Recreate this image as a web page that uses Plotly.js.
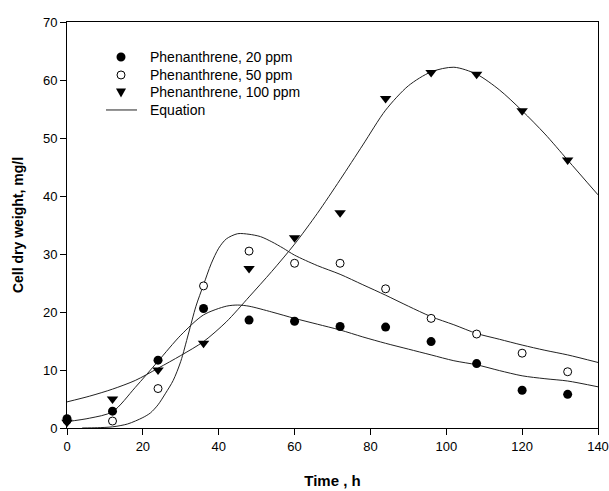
<!DOCTYPE html>
<html>
<head>
<meta charset="utf-8">
<script src="https://cdn.plot.ly/plotly-3.0.1.min.js"></script>
<style>html,body{margin:0;padding:0;background:#fff;}#chart{width:609px;height:491px;}</style>
</head>
<body>
<div id="chart"></div>
<script>
// Measured data
const timeH = [0, 12, 24, 36, 48, 60, 72, 84, 96, 108, 120, 132];
const phen20 = [1.6, 2.9, 11.7, 20.6, 18.6, 18.4, 17.5, 17.4, 14.9, 11.1, 6.5, 5.8];
const phen50 = [1.3, 1.2, 6.8, 24.5, 30.5, 28.4, 28.4, 24.0, 18.9, 16.2, 12.9, 9.7];
const phen100 = [1.0, 5.0, 10.0, 14.6, 27.5, 32.8, 37.1, 56.8, 61.3, 61.0, 54.7, 46.2];

// Fitted equation curves
const eq20T = [0, 6, 12, 18, 24, 30, 36, 42, 45, 48, 54, 60, 66, 72, 78, 84, 90, 96, 102, 108, 114, 120, 126, 132, 140];
const eq20V = [1.1, 1.7, 2.8, 7.0, 11.5, 16.0, 19.5, 21.0, 21.2, 21.0, 20.0, 18.9, 17.9, 16.9, 15.7, 14.6, 13.6, 12.6, 11.6, 10.9, 9.9, 9.0, 8.5, 8.1, 7.1];

const eq50T = [4, 8, 12, 16, 20, 22, 24, 26, 28, 30, 32, 34, 36, 38, 40, 42, 45, 48, 51, 54, 57, 60, 66, 72, 78, 84, 90, 96, 102, 108, 114, 120, 126, 132, 140];
const eq50V = [0, 0.05, 0.2, 0.7, 1.8, 2.6, 4.0, 6.0, 8.2, 11.5, 16.2, 21.0, 24.7, 28.3, 31.0, 32.6, 33.5, 33.4, 33.0, 32.1, 31.0, 29.8, 28.0, 26.5, 24.7, 22.9, 21.0, 19.2, 17.8, 16.3, 15.3, 14.3, 13.4, 12.6, 11.3];

const eq100T = [0, 6, 12, 18, 24, 30, 36, 42, 48, 54, 60, 66, 72, 78, 84, 90, 96, 102, 108, 114, 120, 126, 132, 140];
const eq100V = [4.5, 5.5, 6.7, 8.2, 10.3, 12.5, 14.9, 18.3, 22.6, 27.0, 31.7, 37.0, 42.8, 48.8, 54.8, 59.0, 61.4, 62.2, 61.0, 58.3, 54.7, 50.7, 46.2, 40.2];

const seriesNames = ['Phenanthrene, 20 ppm', 'Phenanthrene, 50 ppm', 'Phenanthrene, 100 ppm', 'Equation'];
const xTicks = [0, 20, 40, 60, 80, 100, 120, 140];
const yTicks = [0, 10, 20, 30, 40, 50, 60, 70];

const FONT = 'Liberation Sans, Arial, sans-serif';
const lineStyle = {color: '#222', width: 1, shape: 'spline', smoothing: 0.8};

const traces = [
  {x: eq20T, y: eq20V, mode: 'lines', line: lineStyle, name: seriesNames[3], hoverinfo: 'skip'},
  {x: eq50T, y: eq50V, mode: 'lines', line: lineStyle, name: seriesNames[3], hoverinfo: 'skip'},
  {x: eq100T, y: eq100V, mode: 'lines', line: lineStyle, name: seriesNames[3], hoverinfo: 'skip'},
  {x: timeH, y: phen50, mode: 'markers', name: seriesNames[1], cliponaxis: false,
   marker: {symbol: 'circle', size: 8, color: '#fff', line: {color: '#000', width: 1}}},
  {x: timeH, y: phen100, mode: 'markers', name: seriesNames[2], cliponaxis: false,
   marker: {symbol: 'triangle-down', size: 10, color: '#000', line: {width: 0}}},
  {x: timeH, y: phen20, mode: 'markers', name: seriesNames[0], cliponaxis: false,
   marker: {symbol: 'circle', size: 9, color: '#000', line: {width: 0}}}
];

// Manual legend (layout decoration)
const legSymX = 0.1017, legTextX = 0.1525;
const legRowsY = [0.9138, 0.8695, 0.8264, 0.7833];
const px = {xref: 'paper', yref: 'paper', xsizemode: 'pixel', ysizemode: 'pixel', xanchor: legSymX};
const shapes = [
  Object.assign({type: 'circle', yanchor: legRowsY[0], x0: -4.5, x1: 4.5, y0: -4.5, y1: 4.5,
                 fillcolor: '#000', line: {width: 0}}, px),
  Object.assign({type: 'circle', yanchor: legRowsY[1], x0: -4, x1: 4, y0: -4, y1: 4,
                 fillcolor: '#fff', line: {color: '#000', width: 1}}, px),
  Object.assign({type: 'path', yanchor: legRowsY[2], path: 'M-5,4 L5,4 L0,-5 Z',
                 fillcolor: '#000', line: {width: 0}}, px),
  Object.assign({type: 'line', yanchor: legRowsY[3], x0: -15, x1: 16, y0: 0, y1: 0,
                 line: {color: '#222', width: 1}}, px)
];
const annotations = seriesNames.map((n, i) => ({
  text: n, xref: 'paper', yref: 'paper', x: legTextX, y: legRowsY[i],
  xanchor: 'left', yanchor: 'middle', showarrow: false,
  font: {family: FONT, size: 14, color: '#000'}
}));

const layout = {
  width: 609, height: 491,
  margin: {l: 67, r: 11, t: 22, b: 63},
  paper_bgcolor: '#fff', plot_bgcolor: '#fff',
  font: {family: FONT, size: 12, color: '#000'},
  showlegend: false,
  shapes: shapes,
  annotations: annotations,
  xaxis: {range: [0, 140], tickvals: xTicks, ticks: 'outside', ticklen: 6, tickcolor: '#000',
          showline: true, linecolor: '#000', linewidth: 1, mirror: true, showgrid: false, zeroline: false,
          tickfont: {family: FONT, size: 13, color: '#000'},
          title: {text: '<b>Time , h</b>', font: {family: FONT, size: 15, color: '#000'}, standoff: 22}},
  yaxis: {range: [0, 70], tickvals: yTicks, ticks: 'outside', ticklen: 6, tickcolor: '#000',
          showline: true, linecolor: '#000', linewidth: 1, mirror: true, showgrid: false, zeroline: false,
          tickfont: {family: FONT, size: 13, color: '#000'},
          title: {text: '<b>Cell dry weight, mg/l</b>', font: {family: FONT, size: 14, color: '#000'}, standoff: 16}}
};

Plotly.newPlot('chart', traces, layout, {displayModeBar: false, staticPlot: true});
</script>
</body>
</html>
